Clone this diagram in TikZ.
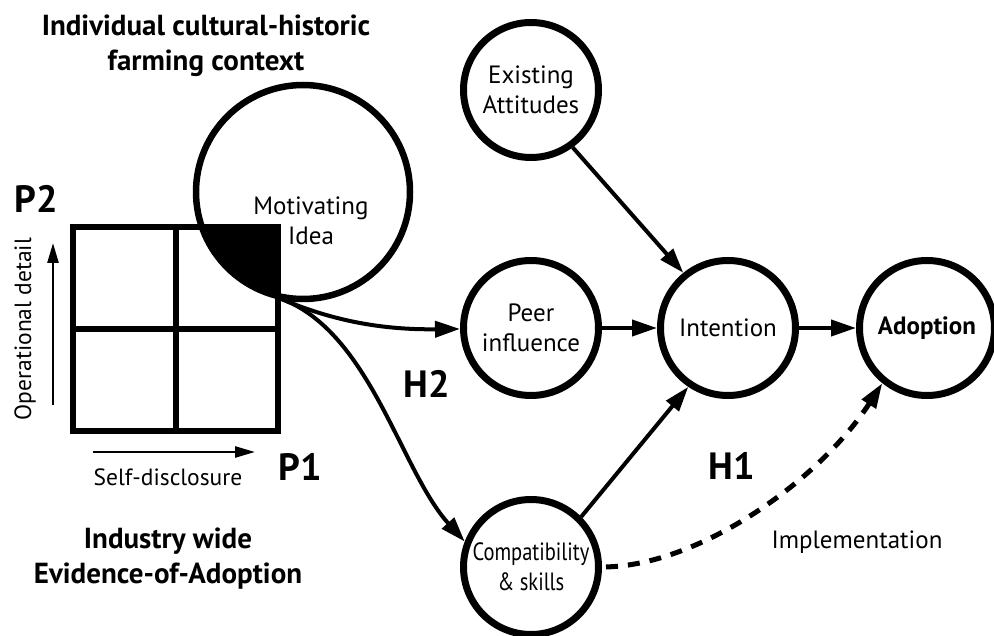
\documentclass[tikz,border=0pt]{standalone}
\usepackage{fontspec}
\setmainfont{PT Sans}
\usepackage{graphicx}
\usetikzlibrary{arrows.meta}

\newcommand\plainfont{\fontsize{25pt}{30pt}\selectfont}
\newcommand\axisfont{\fontsize{23.5pt}{30pt}\selectfont}
\newcommand\headfont{\bfseries\fontsize{29pt}{35pt}\selectfont}
\newcommand\tagfont{\bfseries\fontsize{38pt}{40pt}\selectfont}

\tikzset{
  bubble/.style={circle, draw, line width=7pt, minimum size=135pt,
    inner sep=0pt, align=center, font=\plainfont},
  link/.style={line width=4pt, -{Triangle[length=25pt,width=16pt]}},
  implink/.style={line width=5pt, dash pattern=on 12pt off 10pt,
    -{Triangle[length=25pt,width=16pt]}},
  axisarrow/.style={line width=2.5pt, -{Triangle[length=20pt,width=11pt]}},
  plainlabel/.style={font=\plainfont, align=center, inner sep=0pt},
  axislabel/.style={font=\axisfont, inner sep=0pt, anchor=base},
  headlabel/.style={font=\headfont, align=center, inner sep=0pt, anchor=base},
  taglabel/.style={font=\tagfont, inner sep=0pt, anchor=base},
}

\begin{document}
\begin{tikzpicture}[x=1pt,y=-1pt]
\useasboundingbox (0,0) rectangle (994,636);

% context headings (base anchor sits on the last line)
\node[headlabel] (context) at (206,71)
  {Individual cultural-historic\\farming context};
\node[headlabel] (industry) at (168,583)
  {Industry wide\\Evidence-of-Adoption};

% shaded overlap of the idea with the upper right cell
\begin{scope}
  \clip (176,227) rectangle (278,329);
  \fill (303,192) circle[radius=107];
\end{scope}

% 2x2 disclosure grid
\draw[line width=6.5pt] (73,227) rectangle (278,431)
  (176,227) -- (176,431) (73,329) -- (278,329);

% motivating idea
\node[circle, draw, line width=6.5pt, minimum size=214pt, inner sep=0pt] (idea) at (303,192) {};
\node[plainlabel] (ideatext) at (311,221) {Motivating\\Idea};
\coordinate (ideaout) at (279,298);

% axes of the grid
\coordinate (odlow) at (53,405);
\coordinate (odhigh) at (53,243);
\coordinate (sdlow) at (93,452);
\coordinate (sdhigh) at (255,452);
\draw[axisarrow] (odlow) -- (odhigh);
\draw[axisarrow] (sdlow) -- (sdhigh);
\node[axislabel, rotate=90] (odtext) at (31,329) {Operational detail};
\node[axislabel] (sdtext) at (168,485) {Self-disclosure};

\node[taglabel] (p1) at (300,480) {P1};
\node[taglabel] (p2) at (36,213) {P2};
\node[taglabel] (h2) at (427,398) {H2};
\node[taglabel] (h1) at (732,479) {H1};

% model nodes
\node[bubble] (exist) at (531,90) {Existing\\Attitudes};
\node[bubble] (peer) at (531,328) {Peer\\influence};
\node[bubble] (intent) at (728,328) {Intention};
\node[bubble, font=\plainfont\bfseries] (adopt) at (927,328) {Adoption};
\node[bubble] (comp) at (531,567)
  {\scalebox{0.82}[1]{Compatibility}\\\scalebox{0.82}[1]{\& skills}};

% connectors
\draw[link] (ideaout) .. controls (330,320) and (380,330) .. (peer);
\draw[link] (ideaout) .. controls (370,330) and (400,470) .. (comp.159);
\draw[link] (peer) -- (intent);
\draw[link] (intent) -- (adopt);
\draw[link] (exist.306) -- (intent.129);
\draw[link] (comp.45) -- (intent.236);
\draw[implink, shorten <=4pt] (comp.east) .. controls (700,565) and (820,480) .. (adopt.231);

\node[plainlabel, anchor=base] (impl) at (857,548) {Implementation};
\end{tikzpicture}
\end{document}
